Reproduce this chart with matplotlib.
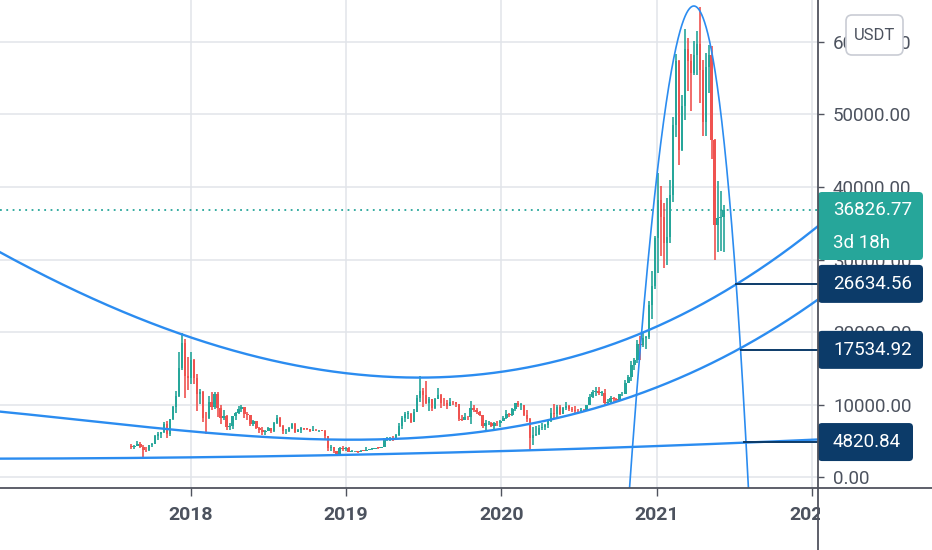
import numpy as np
import pandas as pd
import matplotlib
matplotlib.use('Agg')
import matplotlib.pyplot as plt
import matplotlib.dates as mdates
import matplotlib.transforms as mtransforms
from matplotlib import font_manager
from matplotlib.patches import FancyBboxPatch, Rectangle
from matplotlib.lines import Line2D

# BTC/USDT weekly candles, week of 2017-08-14 .. week of 2021-06-07
first_open = 4261
close_2017 = [4086, 4310, 4580, 4130, 3700, 3660, 4378, 4610, 5710, 5930, 6140, 7360,
              5950, 8000, 9700, 11200, 15000, 18500, 13900, 13700]
high_2017 = [4485, 4453, 4939, 4788, 4394, 4123, 4406, 4650, 5856, 6171, 6200, 7600,
             7776, 8030, 9779, 11800, 17200, 19798, 19000, 16600]
low_2017 = [3850, 3900, 4254, 3972, 2817, 3505, 3600, 4110, 4550, 5100, 5400, 6100,
            5325, 5700, 7930, 8800, 11100, 14800, 10961, 12000]

close_2018 = [16200, 13600, 11500, 11750, 8200, 8100, 10400, 9600, 11400, 9500, 8200, 8450, 6850,
              7020, 8350, 8800, 9400, 9650, 8700, 8500, 7350, 7700, 6770, 6450, 6150, 6350,
              6750, 6350, 7400, 8200, 7030, 6300, 6400, 6700, 7250, 6250, 6500, 6700, 6630,
              6600, 6300, 6500, 6450, 6450, 6400, 5600, 4000, 4100, 3600, 3200, 3950, 3900, 4050]
high_2018 = [17252, 16300, 14200, 12200, 11800, 9000, 11200, 11700, 11700, 11700, 9900, 9200, 8500,
             7500, 8400, 9000, 9760, 9990, 9700, 8900, 8500, 7800, 7750, 6900, 6850, 6550,
             6850, 6800, 7600, 8500, 8300, 7150, 6600, 6900, 7400, 7400, 6600, 6850, 6800,
             6700, 6650, 7000, 6600, 6550, 6550, 6500, 5650, 4400, 4200, 3600, 4200, 4250, 4100]
low_2018 = [12800, 12800, 9035, 10050, 7600, 6000, 8000, 9300, 9350, 8300, 7300, 7900, 6500,
            6430, 6600, 7800, 8700, 9000, 8100, 7900, 7050, 7050, 6650, 6100, 5750, 5800,
            6300, 6050, 6250, 7350, 6900, 5900, 5880, 6250, 6650, 6100, 6150, 6100, 6450,
            6450, 6200, 6300, 6400, 6250, 6300, 5200, 3600, 3650, 3300, 3150, 3180, 3550, 3650]

close_2019 = [3500, 3530, 3540, 3410, 3650, 3630, 3770, 3860, 3930, 4000, 3980, 4100,
              5060, 5070, 5310, 5200, 5770, 6970, 8150, 8730, 8740, 7650, 8980, 10850, 11880,
              11300, 10200, 10750, 9520, 10800, 11350, 10200, 10150, 9750,
              10400, 10300, 10030, 8050, 7870, 8300, 8220, 9550, 9200,
              9030, 8500, 7050, 7400, 7500, 7070, 7500, 7400, 7760]
high_2019 = [4100, 3750, 3620, 3550, 3700, 3700, 4200, 3900, 3990, 4050, 4100, 4150,
             5350, 5470, 5450, 5630, 5900, 7450, 8400, 8950, 9100, 8800, 9330, 11300, 13970,
             12300, 13200, 11100, 10800, 10950, 12300, 11450, 10950, 10630,
             10900, 10450, 10350, 10100, 8500, 8800, 8420, 10500, 9900,
             9500, 9080, 8500, 7850, 7700, 7600, 7520, 7700, 7800]
low_2019 = [3450, 3480, 3470, 3350, 3380, 3560, 3620, 3700, 3680, 3850, 3900, 3950,
            4090, 4920, 5020, 4950, 5150, 5700, 6600, 7550, 8000, 7450, 7520, 8960, 10350,
            9620, 10100, 9080, 9100, 9400, 10780, 9450, 9750, 9320,
            9730, 9900, 9650, 7700, 7750, 7850, 7900, 7300, 8950,
            8650, 8350, 6800, 6500, 7150, 6900, 6450, 7100, 6850]

close_2020 = [8180, 8680, 8600, 9350, 10150, 9920, 9950, 8530, 8030, 5360, 5820, 5880, 6770,
              6900, 7120, 7690, 8890, 8750, 9680, 8720, 9450, 9750, 9340, 9300, 9120, 9070,
              9300, 9170, 9930, 11100, 11700, 11850, 11650, 11650, 10250, 10330, 10940, 10760, 10660,
              11380, 11500, 13030, 13780, 15480, 16070, 18370, 18180, 19160, 19280, 23740, 26280, 32980]
high_2020 = [8480, 9200, 8820, 9570, 10160, 10500, 10250, 9960, 9190, 8180, 6900, 6980, 7200,
             7470, 7290, 7740, 9480, 10070, 9960, 9900, 9620, 10380, 10000, 9600, 9800, 9380,
             9480, 9350, 9960, 11450, 12000, 12470, 12470, 11800, 12100, 10800, 11180, 10990, 10960,
             11490, 11730, 13350, 14100, 15960, 16480, 18960, 19420, 19920, 19420, 24300, 28420, 33300]
low_2020 = [7660, 8050, 8250, 8470, 9100, 9650, 9300, 8400, 7630, 3782, 4450, 5670, 5860,
            6500, 6460, 6750, 7650, 8120, 8200, 8620, 8640, 9270, 9100, 8900, 8840, 8900,
            9040, 9000, 9040, 9900, 10950, 11150, 11370, 11120, 9880, 9880, 10200, 10140, 10370,
            10530, 11200, 11400, 12900, 13200, 14800, 15780, 16200, 18000, 17600, 19000, 21820, 26000]

close_2021 = [38150, 35830, 32260, 33100, 38870, 48580, 57410, 45140, 51200, 59000, 57350, 55780,
              58200, 59770, 56150, 49000, 56600, 58240, 46430, 34700, 35680, 35800, 36826.77]
high_2021 = [41950, 40100, 37850, 38530, 40950, 49700, 58350, 57530, 52640, 61840, 60600, 58400,
             60200, 61500, 64850, 57500, 58450, 59600, 59500, 46650, 40850, 39480, 37530]
low_2021 = [28130, 30420, 28850, 29240, 32300, 37990, 46900, 43000, 44950, 49300, 53270, 50430,
            55500, 55500, 51540, 47000, 47050, 52900, 43820, 30000, 31100, 31200, 31000]

last_price = 36826.77
time_left = '3d 18h'

# drawings: anchor points
arc_top_dates = ['2016-10-09', '2017-05-31', '2017-12-10', '2019-01-05', '2019-09-02',
                 '2020-07-04', '2020-12-16', '2021-07-03', '2022-01-12']
arc_top_prices = [31076, 24179, 19448, 14524, 13834, 17062, 19862, 26620, 34483]
arc_mid_dates = ['2016-10-09', '2017-05-31', '2018-01-22', '2018-12-17', '2019-03-22',
                 '2019-09-02', '2020-03-08', '2020-11-15', '2021-02-24', '2021-07-15', '2022-01-12']
arc_mid_prices = [9241, 7310, 5931, 5241, 5338, 6028, 7490, 11172, 13379, 17517, 24648]
arc_low_dates = ['2016-10-09', '2018-03-10', '2019-09-02', '2020-08-20', '2021-07-22', '2022-01-12']
arc_low_prices = [2524, 2800, 3310, 4000, 4820.84, 5103]
bubble_dates = ['2020-10-25', '2021-04-10', '2021-08-07']   # start, control, end
bubble_prices = [-4552, 134483, -4552]

level_prices = [26634.56, 17534.92, 4820.84]
level_starts = ['2021-07-03', '2021-07-15', '2021-07-22']

years = ['2018', '2019', '2020', '2021', '2022']

# ---------------------------------------------------------------
closes = close_2017 + close_2018 + close_2019 + close_2020 + close_2021
highs = high_2017 + high_2018 + high_2019 + high_2020 + high_2021
lows = low_2017 + low_2018 + low_2019 + low_2020 + low_2021
opens = [first_open] + closes[:-1]
weeks = pd.date_range('2017-08-14', periods=len(closes), freq='7D')
x = mdates.date2num(weeks)

names = {f.name for f in font_manager.fontManager.ttflist}
if 'Liberation Sans Narrow' in names:
    font, fs = 'Liberation Sans Narrow', 16.5
else:
    font, fs = 'Roboto', 13.5
plt.rcParams['font.family'] = [font, 'DejaVu Sans']

UP, DOWN = '#26a69a', '#ef5350'
BLUE = '#2b8cf0'
NAVY = '#0c3b69'
TXT = '#4c525e'
AXC = '#50535e'

fig = plt.figure(figsize=(9.32, 5.5), dpi=100)
ax = fig.add_axes([0, 62 / 550, 818 / 932, 488 / 550])
ax.set_axisbelow(True)

cols = [UP if c >= o else DOWN for o, c in zip(opens, closes)]
ax.vlines(x, lows, highs, colors=cols, lw=1.2, zorder=2)
bottoms = [min(o, c) for o, c in zip(opens, closes)]
heights = [max(abs(c - o), 100) for o, c in zip(opens, closes)]
ax.bar(x, heights, bottom=bottoms, width=5.8, color=cols, lw=0, zorder=2)

ax.axhline(last_price, color=UP, lw=1.3, ls=(0, (1, 2.5)), zorder=1)

xs = np.linspace(mdates.date2num(pd.Timestamp('2016-10-01')),
                 mdates.date2num(pd.Timestamp('2022-01-20')), 600)
for dts, prs, deg in [(arc_top_dates, arc_top_prices, 3),
                      (arc_mid_dates, arc_mid_prices, 3),
                      (arc_low_dates, arc_low_prices, 2)]:
    coef = np.polyfit(mdates.date2num(pd.to_datetime(dts)), prs, deg)
    ax.plot(xs, np.polyval(coef, xs), color=BLUE, lw=1.7, zorder=3)

bx = mdates.date2num(pd.to_datetime(bubble_dates))
t = np.linspace(0, 1, 500)
curve_x = (1 - t) ** 2 * bx[0] + 2 * t * (1 - t) * bx[1] + t ** 2 * bx[2]
curve_y = (1 - t) ** 2 * bubble_prices[0] + 2 * t * (1 - t) * bubble_prices[1] + t ** 2 * bubble_prices[2]
ax.plot(curve_x, curve_y, color=BLUE, lw=1.2, zorder=3)

xmax = mdates.date2num(pd.Timestamp('2022-01-15'))
for p, s in zip(level_prices, level_starts):
    ax.hlines(p, mdates.date2num(pd.Timestamp(s)), xmax, color=NAVY, lw=1.4, zorder=4)

ax.set_xlim(mdates.date2num(pd.Timestamp('2016-10-09')), xmax)
ax.set_ylim(-1517, 65793)

ax.set_xticks(mdates.date2num(pd.to_datetime([y + '-01-01' for y in years])))
ax.set_xticklabels(years, fontsize=fs + 0.5, fontweight='bold', color=TXT)
ax.set_yticks(np.arange(0, 70000, 10000))
ax.yaxis.set_major_formatter(matplotlib.ticker.StrMethodFormatter('{x:.2f}'))
ax.yaxis.tick_right()
ax.tick_params(axis='y', length=4.3, width=1, color=AXC, pad=6.5, labelsize=fs, labelcolor=TXT)
ax.tick_params(axis='x', length=5.8, width=1, color=AXC, pad=7)
ax.grid(True, color='#e1e4ea', lw=1.1)
for sp in ax.spines.values():
    sp.set_visible(False)

# price scale labels
def anchor(price):
    return mtransforms.Affine2D() + mtransforms.ScaledTranslation(1, price, ax.get_yaxis_transform())

tr = anchor(last_price)
ax.add_artist(FancyBboxPatch((0, -50), 105, 68, boxstyle='round,pad=0,rounding_size=4',
                             transform=tr, fc=UP, ec='none', clip_on=False, zorder=6))
ax.text(15, 0, f'{last_price:.2f}', transform=tr, ha='left', va='center', color='white',
        fontsize=fs, clip_on=False, zorder=7)
ax.text(15, -33, time_left, transform=tr, ha='left', va='center', color='white',
        fontsize=fs, clip_on=False, zorder=7)

for p, w in zip(level_prices, [105, 105, 95]):
    tr = anchor(p)
    ax.add_artist(FancyBboxPatch((0, -19), w, 38, boxstyle='round,pad=0,rounding_size=4',
                                 transform=tr, fc=NAVY, ec='none', clip_on=False, zorder=6))
    ax.text(15, 0, f'{p:.2f}', transform=tr, ha='left', va='center', color='white',
            fontsize=fs, clip_on=False, zorder=7)

# frame of the price / time scales
fig.add_artist(Rectangle((819.5 / 932, 0), 113 / 932, 61 / 550, transform=fig.transFigure,
                         fc='white', ec='none', zorder=3))
fig.add_artist(Line2D([818 / 932] * 2, [0, 1], transform=fig.transFigure, color=AXC, lw=1.3, zorder=4))
fig.add_artist(Line2D([0, 1], [62 / 550] * 2, transform=fig.transFigure, color=AXC, lw=1.3, zorder=4))

# currency badge
ident = mtransforms.IdentityTransform()
fig.add_artist(FancyBboxPatch((846, 495), 57, 40, boxstyle='round,pad=0,rounding_size=6',
                              transform=ident, fc='white', ec='#c9ccd4', lw=1.2, zorder=5))
fig.text(874.5, 515, 'USDT', transform=ident, ha='center', va='center', color=TXT,
         fontsize=fs - 1.5, zorder=6)

fig.savefig('out.png', dpi=100)
